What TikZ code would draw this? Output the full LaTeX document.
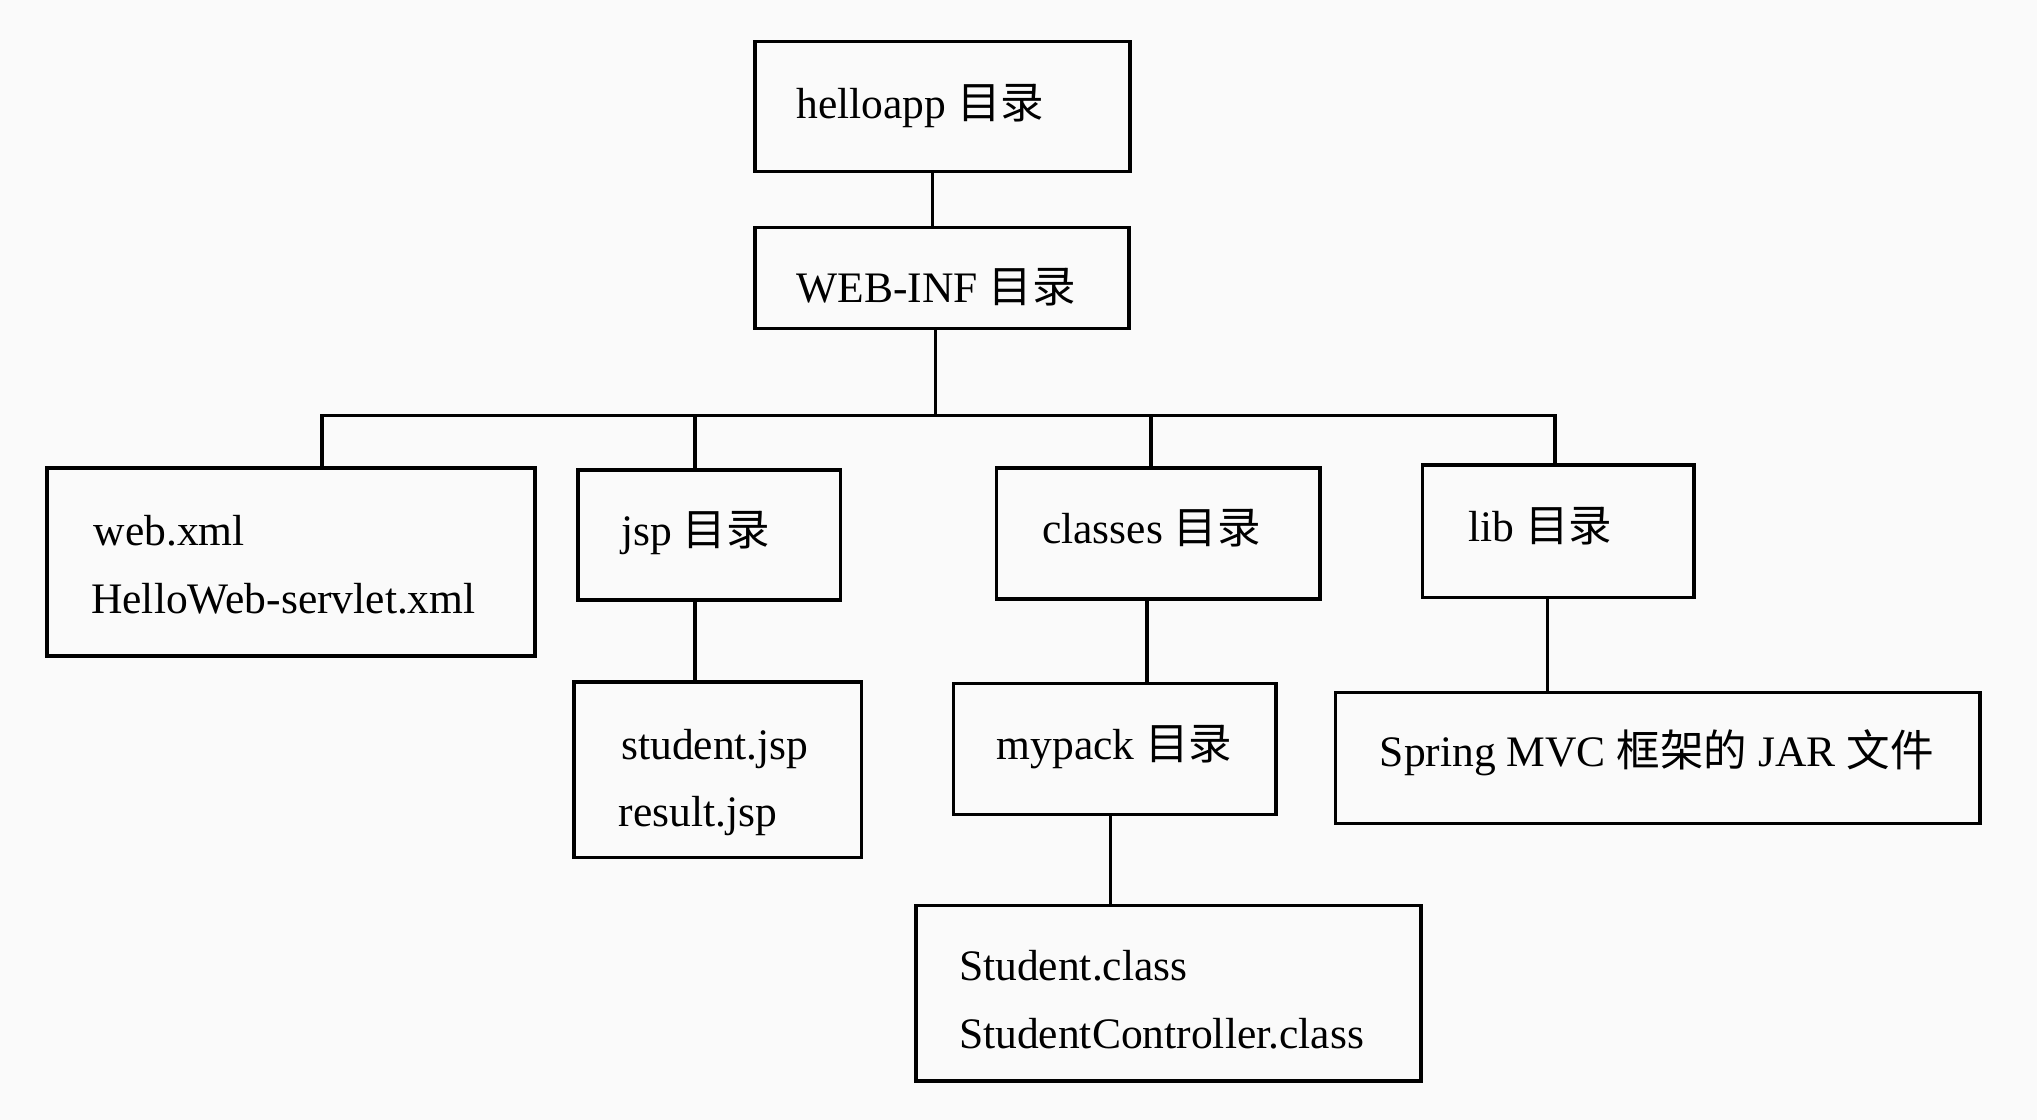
\documentclass[tikz,border=0pt]{standalone}
\usepackage{fontspec}
\setmainfont{Liberation Serif}
\newfontfamily\cjk{Noto Sans CJK SC}
\newcommand{\zh}[1]{{\cjk #1}}
\begin{document}
\begin{tikzpicture}[x=1pt,y=-1pt,
  box/.style={draw=black, line width=2.8pt, minimum width=#1, inner sep=0pt},
  txt/.style={anchor=base west, inner sep=0pt, font=\fontsize{33.5}{40}\selectfont},
  link/.style={draw=black, line width=2.6pt, line cap=rect}]
\useasboundingbox[fill=gray!4] (0,0) rectangle (1568,862);
% boxes
\node[box=289pt, minimum height=100pt] (hello)  at (725.5,82) {};
\node[box=288pt, minimum height=78pt]  (webinf) at (725,214) {};
\node[box=376pt, minimum height=145pt] (web)    at (224,432.5) {};
\node[box=202pt, minimum height=100pt] (jsp)    at (546,412) {};
\node[box=249pt, minimum height=101pt] (classes) at (891.5,410.5) {};
\node[box=209pt, minimum height=102pt] (lib)    at (1199.5,409) {};
\node[box=221pt, minimum height=135pt] (sjsp)   at (552.5,592.5) {};
\node[box=248pt, minimum height=101pt] (mypack) at (858,576.5) {};
\node[box=496pt, minimum height=101pt] (spring) at (1276,583.5) {};
\node[box=389pt, minimum height=135pt] (sclass) at (899.5,764.5) {};
% texts
\node[txt] (t1) at (613,91) {helloapp \zh{目录}};
\node[txt] (t2) at (613,233) {WEB-INF \zh{目录}};
\node[txt] (t3) at (72,420) {web.xml};
\node[txt] (t4) at (70,472) {HelloWeb-servlet.xml};
\node[txt] (t5) at (478,420) {jsp \zh{目录}};
\node[txt] (t6) at (802,418) {classes \zh{目录}};
\node[txt] (t7) at (1130,417) {lib \zh{目录}};
\node[txt] (t8) at (478,585) {student.jsp};
\node[txt] (t9) at (476,636) {result.jsp};
\node[txt] (t10) at (767,585) {mypack \zh{目录}};
\node[txt] (t11) at (1062,590) {Spring MVC \zh{框架的} JAR \zh{文件}};
\node[txt] (t12) at (738,755) {Student.class};
\node[txt] (t13) at (738,807) {StudentController.class};
% connectors
\coordinate (bus) at (720,320);
\coordinate (busL) at (248,320);
\coordinate (busR) at (1197,320);
\draw[link] ([xshift=-7.5pt]hello.south) -- ([xshift=-7.5pt]hello.south |- webinf.north);
\draw[link] ([xshift=-5pt]webinf.south) -- (bus);
\draw[link] (busL) -- (busR);
\draw[link] (busL) -- (busL |- web.north);
\draw[link] (535,320) -- (535,320 |- jsp.north);
\draw[link] (886,320) -- (886,320 |- classes.north);
\draw[link] (busR) -- (busR |- lib.north);
\draw[link] (535,0 |- jsp.south) -- (535,0 |- sjsp.north);
\draw[link] (883,0 |- classes.south) -- (883,0 |- mypack.north);
\draw[link] (1191,0 |- lib.south) -- (1191,0 |- spring.north);
\draw[link] (855,0 |- mypack.south) -- (855,0 |- sclass.north);
\end{tikzpicture}
\end{document}
